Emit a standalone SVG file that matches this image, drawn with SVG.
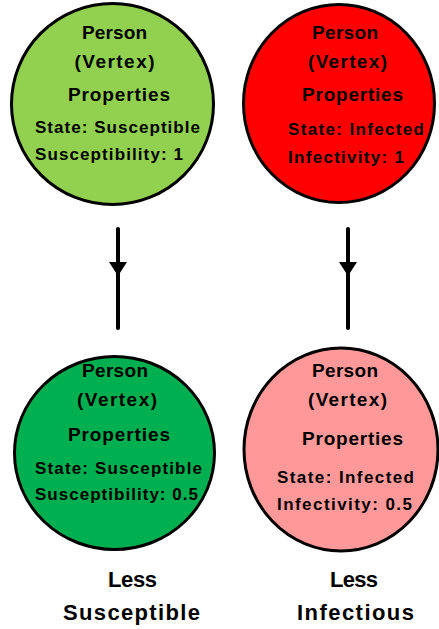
<svg xmlns="http://www.w3.org/2000/svg" width="439" height="629" viewBox="0 0 439 629">
  <style>
    .node { stroke: #000; stroke-width: 3; }
    .t { font-family: "Liberation Sans", Arial, sans-serif; font-weight: bold; fill: #000; }
    .h { font-size: 19px; text-anchor: middle; }
    .p { font-size: 17px; }
    .cap { font-size: 22px; text-anchor: middle; }
    .edge { stroke: #000; stroke-width: 4; stroke-linecap: round; fill: none; marker-mid: url(#head); }
  </style>
  <defs>
    <marker id="head" markerUnits="userSpaceOnUse" markerWidth="18" markerHeight="14" refX="9" refY="13" orient="0" viewBox="0 0 18 14">
      <path d="M0,0 L18,0 L9,14 Z" fill="#000"/>
    </marker>
  </defs>

  <g id="connectors">
    <path class="edge" d="M118,229 L118,275 L118,328"/>
    <path class="edge" d="M348,229 L348,275 L348,328"/>
  </g>

  <g id="susceptible-base">
    <ellipse class="node" cx="112.5" cy="104" rx="101" ry="100.5" fill="#92D050"/>
    <text class="t h" x="114.5" y="39" textLength="65" lengthAdjust="spacing">Person</text>
    <text class="t h" x="114.5" y="68" textLength="80" lengthAdjust="spacing">(Vertex)</text>
    <text class="t h" x="119" y="101" textLength="102" lengthAdjust="spacing">Properties</text>
    <text class="t p" x="35" y="133" textLength="165" lengthAdjust="spacing">State: Susceptible</text>
    <text class="t p" x="35" y="160" textLength="148" lengthAdjust="spacing">Susceptibility: 1</text>
  </g>

  <g id="infected-base">
    <ellipse class="node" cx="339" cy="103.5" rx="95.5" ry="99" fill="#FF0000"/>
    <text class="t h" x="345" y="39" textLength="66" lengthAdjust="spacing">Person</text>
    <text class="t h" x="347.5" y="68" textLength="79" lengthAdjust="spacing">(Vertex)</text>
    <text class="t h" x="352.5" y="101" textLength="101" lengthAdjust="spacing">Properties</text>
    <text class="t p" x="288" y="135" textLength="136" lengthAdjust="spacing">State: Infected</text>
    <text class="t p" x="288" y="162.5" textLength="116" lengthAdjust="spacing">Infectivity: 1</text>
  </g>

  <g id="susceptible-reduced">
    <ellipse class="node" cx="114.5" cy="453" rx="100" ry="96.5" fill="#00B050"/>
    <text class="t h" x="115" y="377" textLength="66" lengthAdjust="spacing">Person</text>
    <text class="t h" x="117" y="406" textLength="80" lengthAdjust="spacing">(Vertex)</text>
    <text class="t h" x="119" y="441" textLength="102" lengthAdjust="spacing">Properties</text>
    <text class="t p" x="35" y="474" textLength="167" lengthAdjust="spacing">State: Susceptible</text>
    <text class="t p" x="35" y="500" textLength="163" lengthAdjust="spacing">Susceptibility: 0.5</text>
  </g>

  <g id="infected-reduced">
    <ellipse class="node" cx="341" cy="449.5" rx="97" ry="101.5" fill="#FF9999"/>
    <text class="t h" x="345" y="377" textLength="66" lengthAdjust="spacing">Person</text>
    <text class="t h" x="347.5" y="406" textLength="79" lengthAdjust="spacing">(Vertex)</text>
    <text class="t h" x="352.5" y="445" textLength="101" lengthAdjust="spacing">Properties</text>
    <text class="t p" x="277" y="483" textLength="137" lengthAdjust="spacing">State: Infected</text>
    <text class="t p" x="277" y="510" textLength="135" lengthAdjust="spacing">Infectivity: 0.5</text>
  </g>

  <g id="captions">
    <text class="t cap" x="132.5" y="587" textLength="49" lengthAdjust="spacing">Less</text>
    <text class="t cap" x="131.5" y="620" textLength="137" lengthAdjust="spacing">Susceptible</text>
    <text class="t cap" x="354" y="587" textLength="48" lengthAdjust="spacing">Less</text>
    <text class="t cap" x="355.5" y="620" textLength="117" lengthAdjust="spacing">Infectious</text>
  </g>
</svg>
